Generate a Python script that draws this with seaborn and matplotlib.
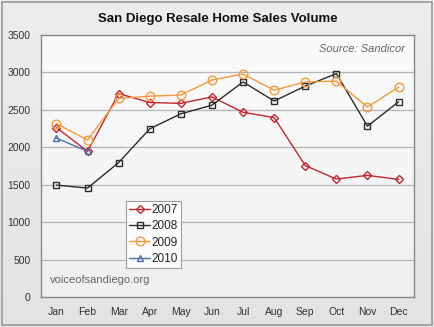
import numpy as np
import pandas as pd
import matplotlib
matplotlib.use("Agg")
import matplotlib.pyplot as plt
import seaborn as sns

months = ["Jan", "Feb", "Mar", "Apr", "May", "Jun",
          "Jul", "Aug", "Sep", "Oct", "Nov", "Dec"]
sales_2007 = [2260, 1945, 2715, 2595, 2585, 2670, 2465, 2395, 1755, 1575, 1625, 1570]
sales_2008 = [1495, 1455, 1795, 2245, 2445, 2560, 2870, 2615, 2815, 2980, 2280, 2605]
sales_2009 = [2315, 2095, 2650, 2680, 2695, 2895, 2975, 2760, 2870, 2880, 2535, 2800]
sales_2010 = [2120, 1945]
years = ["2007", "2008", "2009", "2010"]

frames = []
for yr, vals in zip(years, [sales_2007, sales_2008, sales_2009, sales_2010]):
    frames.append(pd.DataFrame({"month": months[:len(vals)],
                                "idx": np.arange(len(vals)),
                                "sales": vals, "year": yr}))
df = pd.concat(frames, ignore_index=True)

sns.set_style("white")
plt.rcParams["font.family"] = ["Liberation Sans", "DejaVu Sans"]

colors = {"2007": "#c0282e", "2008": "#2b2b2b", "2009": "#f39a3e", "2010": "#4d6fa8"}
markers = {"2007": "D", "2008": "s", "2009": "o", "2010": "^"}
msizes = {"2007": 4.2, "2008": 4.8, "2009": 6.2, "2010": 4.8}

fig = plt.figure(figsize=(4.35, 3.27), dpi=100)

# figure background: soft vertical gradient with a thin frame
bg = fig.add_axes([0, 0, 1, 1], zorder=-10)
grad = np.linspace(0.93, 0.89, 256).reshape(-1, 1)
bg.imshow(np.dstack([grad] * 3), aspect="auto", extent=[0, 1, 0, 1])
bg.add_patch(plt.Rectangle((0.004, 0.006), 0.99, 0.988, fill=False,
                           edgecolor="#9a9a9a", lw=1.2))
bg.set_axis_off()

ax = fig.add_axes([0.094, 0.091, 0.858, 0.803])
ax.set_facecolor("none")
# plot area gradient
ax.imshow(np.dstack([np.linspace(0.985, 0.94, 256).reshape(-1, 1)] * 3),
          aspect="auto", extent=[-0.5, 11.5, 0, 3500], zorder=0)

for yr in years:
    sub = df[df["year"] == yr]
    sns.lineplot(data=sub, x="idx", y="sales", ax=ax, color=colors[yr],
                 marker=markers[yr], markersize=msizes[yr], markerfacecolor="none",
                 markeredgecolor=colors[yr], markeredgewidth=1.0, lw=1.0,
                 label=yr, zorder=3)

ax.set_xlim(-0.5, 11.5)
ax.set_ylim(0, 3500)
ax.set_yticks(np.arange(0, 3501, 500))
ax.set_xticks(np.arange(12))
ax.set_xticklabels(months)
ax.set_xticks(np.arange(-0.5, 12, 1), minor=True)
ax.tick_params(axis="x", which="major", length=0, labelsize=7.5, pad=7, labelcolor="#333333")
ax.tick_params(axis="x", which="minor", length=3, direction="out", color="#888888")
ax.tick_params(axis="y", length=4, direction="out", color="#888888", labelsize=7.5,
               labelcolor="#333333")
ax.set_xlabel("")
ax.set_ylabel("")
for yv in np.arange(500, 3001, 500):
    ax.axhline(yv, color="#b5b5b5", lw=0.9, zorder=1)
for sp in ax.spines.values():
    sp.set_color("#888888")
    sp.set_linewidth(1.0)

leg = ax.legend(loc="upper left", bbox_to_anchor=(0.228, 0.365), fontsize=8.5,
                frameon=True, fancybox=False, handlelength=1.8, handletextpad=0.1,
                borderpad=0.25, labelspacing=0.35, borderaxespad=0)
leg.get_frame().set_edgecolor("#888888")
leg.get_frame().set_facecolor("white")
leg.get_frame().set_linewidth(0.8)

fig.text(0.5, 0.942, "San Diego Resale Home Sales Volume", ha="center", va="center",
         fontsize=9.5, fontweight="bold", color="#111111")
ax.text(0.975, 0.945, "Source: Sandicor", transform=ax.transAxes, ha="right",
        va="center", fontsize=8, style="italic", color="#666666")
ax.text(0.025, 0.045, "voiceofsandiego.org", transform=ax.transAxes, ha="left",
        va="bottom", fontsize=8, color="#666666")

fig.savefig("out.png", dpi=100)
